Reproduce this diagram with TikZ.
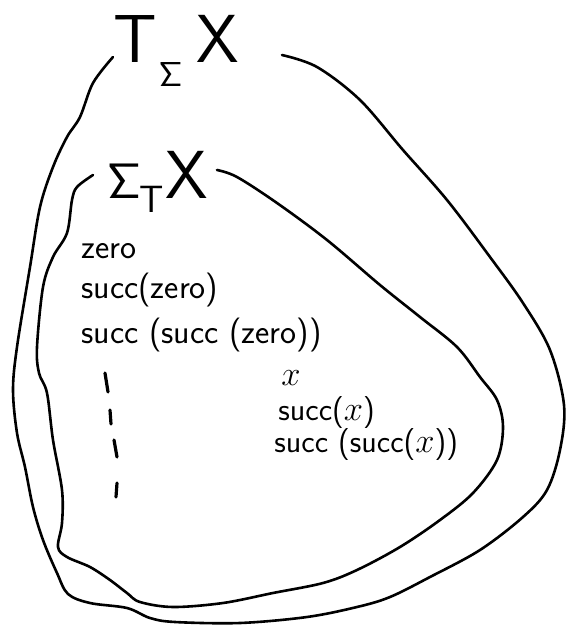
\documentclass[tikz,border=0pt]{standalone}
\begin{document}
\begin{tikzpicture}[x=0.5pt, y=-0.5pt,
    setline/.style={line width=1.3pt, line cap=round, line join=round},
    setname/.style={anchor=base west, inner sep=0pt, font=\fontsize{34}{40}\sffamily},
    term/.style={anchor=base west, inner sep=0pt, font=\fontsize{17}{20}\sffamily}]
    \useasboundingbox (0,0) rectangle (567,627);

    % Outer set
    \draw[setline] plot[smooth, tension=0.55] coordinates {
        (113,57) (93,83) (80,117) (67,137) (53,167) (40,207) (30,267) (17,347)
        (13,390) (17,433) (25,467) (33,507) (43,540) (57,573) (68,594) (90,603)
        (127,608) (150,618) (175,622) (240,623) (307,617) (357,607) (390,597)
        (430,577) (480,550) (523,517) (547,490) (560,450) (564,405) (550,350)
        (523,303) (490,257) (447,200) (403,150) (360,100) (317,67) (282,55)};

    % Inner set
    \draw[setline] plot[smooth, tension=0.55] coordinates {
        (93,175) (77,187) (72,200) (67,233) (53,257) (43,287) (37,347) (39,373)
        (47,393) (53,440) (62,490) (62,523) (58,547) (67,557) (90,567) (110,580)
        (127,593) (140,602) (173,607) (223,603) (273,593) (323,583) (357,570)
        (400,547) (440,520) (473,493) (497,460) (503,427) (497,400) (480,377)
        (457,347) (420,317) (380,285) (327,240) (277,203) (237,177) (217,170)};

    % Set names
    \node[setname] (termset) at (113,62)
        {T\kern1pt\raisebox{-12pt}{\fontsize{19}{20}\selectfont$\mathsf{\Sigma}$}\kern7pt X};
    \node[setname] (sigmaset) at (107,198)
        {$\mathsf{\Sigma}$\kern-1pt\raisebox{-7pt}{\fontsize{19}{20}\selectfont T}\kern1pt X};

    % Closed terms
    \node[term] (zero)  at (81,258) {zero};
    \node[term] (szero) at (81,298) {succ(zero)};
    \node[term] (sszero) at (81,343) {succ (succ (zero))};

    % Dots down the left column
    \foreach \ya/\yb/\xa/\xb in {373/392/105/108, 410/424/110/111, 440/457/114/117, 483/497/117/116} {
        \draw[setline, line width=1.6pt] (\xa,\ya) -- (\xb,\yb);
    }

    % Terms with a variable
    \node[term, font=\fontsize{16}{18}\sffamily] (var)   at (281,385) {$x$};
    \node[term, font=\fontsize{16}{18}\sffamily] (svar)  at (278,420) {succ($x$)};
    \node[term, font=\fontsize{16}{18}\sffamily] (ssvar) at (274,452) {succ (succ($x$))};
\end{tikzpicture}
\end{document}
